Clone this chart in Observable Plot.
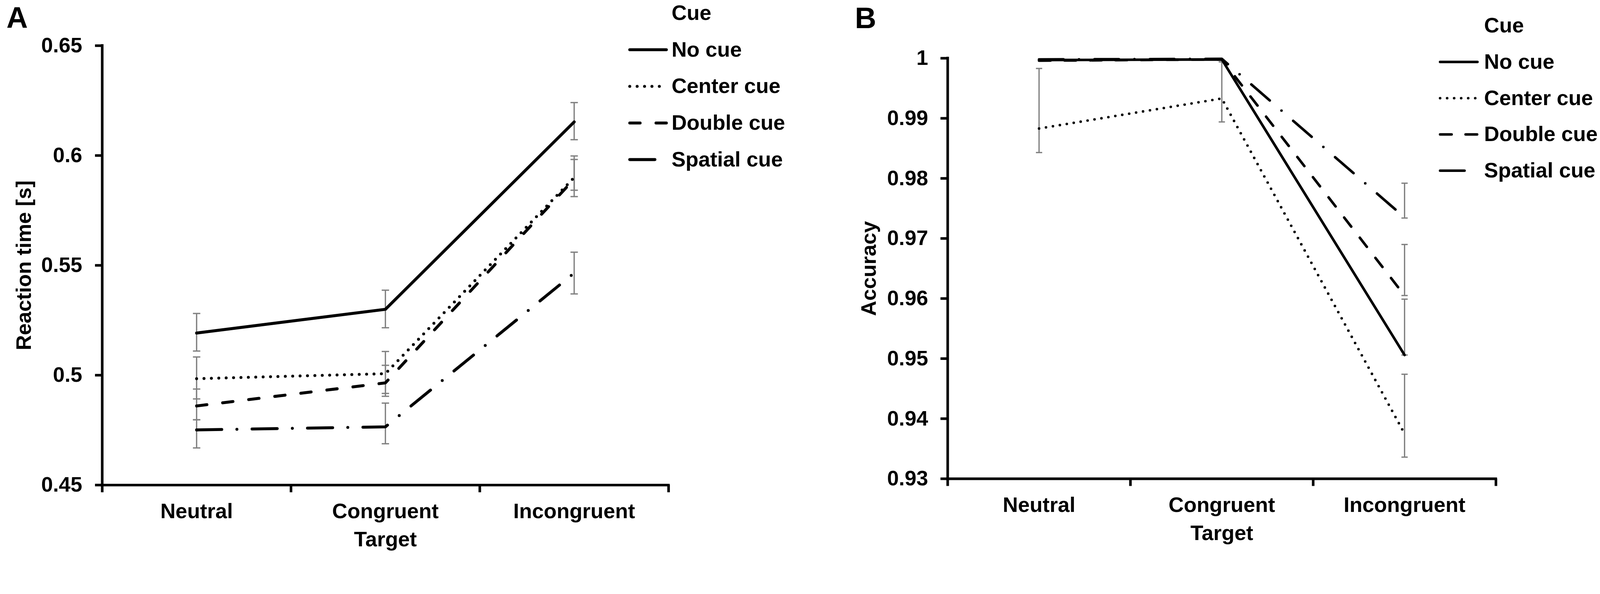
<!DOCTYPE html>
<html>
<head>
<meta charset="utf-8">
<script src="https://cdn.jsdelivr.net/npm/d3@7"></script>
<script src="https://cdn.jsdelivr.net/npm/@observablehq/plot@0.6"></script>
<style>
html, body { margin: 0; padding: 0; background: #fff; overflow: hidden; }
#root { position: absolute; left: 0; top: 0; width: 4328px; height: 1520px; overflow: hidden; background: #fff; transform-origin: 0 0; }
#root > .slot { position: absolute; top: 0; }
</style>
</head>
<body>
<div id="root">
  <div class="slot" id="panelA" style="left:0px"></div>
  <div class="slot" id="panelB" style="left:2200px"></div>
  <div class="slot" id="legendA" style="left:1670px"></div>
  <div class="slot" id="legendB" style="left:3860px"></div>
</div>
<script>
// ---------- data ----------
const categories = ["Neutral", "Congruent", "Incongruent"];
const cues = ["No cue", "Center cue", "Double cue", "Spatial cue"];
const xTitle = "Target";

// Panel A: reaction time [s]
const rtTicks = [0.45, 0.5, 0.55, 0.6, 0.65];
const rtNoCue   = [0.5192, 0.5300, 0.6153];
const rtCenter  = [0.4984, 0.5007, 0.5900];
const rtDouble  = [0.4860, 0.4965, 0.5893];
const rtSpatial = [0.4751, 0.4765, 0.5465];
const rtNoCueLo   = [0.5110, 0.5216, 0.6072];
const rtNoCueHi   = [0.5281, 0.5387, 0.6241];
const rtCenterLo  = [0.4892, 0.4904, 0.5842];
const rtCenterHi  = [0.5083, 0.5108, 0.5998];
const rtDoubleLo  = [0.4797, 0.4917, 0.5813];
const rtDoubleHi  = [0.4937, 0.5045, 0.5982];
const rtSpatialLo = [0.4669, 0.4688, 0.5370];
const rtSpatialHi = [0.4797, 0.4873, 0.5560];

// Panel B: accuracy
const accTicks = [0.93, 0.94, 0.95, 0.96, 0.97, 0.98, 0.99, 1];
const accNoCue   = [0.9997, 0.9998, 0.9506];
const accCenter  = [0.9883, 0.9933, 0.9375];
const accDouble  = [0.9996, 0.9998, 0.9605];
const accSpatial = [0.9998, 0.9999, 0.9735];
const accNoCueLo   = [null, null, 0.9506];
const accNoCueHi   = [null, null, 0.9599];
const accCenterLo  = [0.9843, 0.9894, 0.9336];
const accCenterHi  = [0.9983, 0.9994, 0.9474];
const accDoubleLo  = [null, null, 0.9605];
const accDoubleHi  = [null, null, 0.9690];
const accSpatialLo = [null, null, 0.9734];
const accSpatialHi = [null, null, 0.9792];

// ---------- helpers ----------
const FONT = "'Liberation Sans', Arial, Helvetica, sans-serif";
const baseStyle = {
  fontFamily: FONT, fontSize: "57px", fontWeight: "bold", color: "#000",
  background: "transparent", overflow: "visible", maxWidth: "none"
};
const fmt = d => String(+(+d).toFixed(2));
const capSymbol = {
  draw(context, size) {
    const w = Math.sqrt(size / Math.PI);
    context.moveTo(-w, 0);
    context.lineTo(w, 0);
  }
};

function panel(cfg) {
  const rows = cues.flatMap((cue, s) => categories.map((cat, i) => ({
    cue, cat, xi: i + 0.5, v: cfg.values[s][i], lo: cfg.lows[s][i], hi: cfg.highs[s][i]
  })));
  const bars = rows.filter(d => d.lo != null && d.hi != null);
  const caps = bars.flatMap(d => [{xi: d.xi, y: d.lo}, {xi: d.xi, y: d.hi}]);
  const bandTicks = categories.map((c, i) => i).concat([categories.length]);
  const centerTicks = categories.map((c, i) => i + 0.5);
  return Plot.plot({
    width: cfg.width, height: 1520,
    marginLeft: cfg.marginLeft, marginRight: cfg.marginRight,
    marginTop: cfg.marginTop, marginBottom: cfg.marginBottom,
    style: baseStyle,
    x: {type: "linear", domain: [0, categories.length]},
    y: {type: "linear", domain: [cfg.ticks[0], cfg.ticks[cfg.ticks.length - 1]]},
    marks: [
      Plot.ruleX(bars, {x: "xi", y1: "lo", y2: "hi", stroke: "#808080", strokeWidth: 3.5}),
      Plot.dot(caps, {x: "xi", y: "y", r: cfg.capR, symbol: capSymbol, stroke: "#808080", strokeWidth: 3.5, fill: "none"}),
      ...cfg.order.map(s => Plot.line(rows.filter(d => d.cue === cues[s]), {
        x: "xi", y: "v", stroke: "#000", strokeWidth: cfg.lineWidth,
        strokeDasharray: cfg.dashes[s], strokeLinecap: "round", strokeLinejoin: "round"
      })),
      Plot.ruleX([0], {stroke: "#000", strokeWidth: 7, strokeLinecap: "square"}),
      Plot.ruleY([cfg.ticks[0]], {stroke: "#000", strokeWidth: 7, strokeLinecap: "square"}),
      Plot.axisY({ticks: cfg.ticks, tickSize: 19, tickPadding: cfg.tickPadding, tickFormat: fmt, strokeWidth: 7, label: null}),
      Plot.axisX({ticks: bandTicks, tickSize: 20, tickFormat: () => "", strokeWidth: 7, label: null}),
      Plot.axisX({ticks: centerTicks, tickSize: 0, tickPadding: 49, tickFormat: v => categories[Math.floor(v)], label: null}),
      Plot.text([xTitle], {text: d => d, frameAnchor: "bottom", dy: 166, lineAnchor: "bottom", textAnchor: "middle"}),
      Plot.text([cfg.yTitle], {text: d => d, frameAnchor: "left", dx: cfg.titleDx, rotate: -90, textAnchor: "middle", lineAnchor: "bottom"}),
      Plot.text([cfg.letter], {text: d => d, frameAnchor: "top-left", dx: cfg.letterDx, dy: cfg.letterDy, textAnchor: "start", lineAnchor: "bottom", fontSize: 80})
    ]
  });
}

function legend(cfg) {
  const items = ["Cue", ...cues];
  return Plot.plot({
    width: cfg.width, height: 520, margin: 0,
    style: baseStyle,
    x: {type: "linear", domain: [0, 1], range: cfg.sampleRange, axis: null},
    y: {type: "point", domain: items, range: cfg.rowRange, padding: 0, axis: null},
    marks: [
      ...cues.map((c, s) => Plot.link([c], {
        x1: 0, x2: 1, y1: d => d, y2: d => d, stroke: "#000", strokeWidth: cfg.lineWidth,
        strokeDasharray: cfg.dashes[s], strokeLinecap: "round"
      })),
      Plot.text(items, {x: 1, y: d => d, text: d => d, dx: cfg.textDx, textAnchor: "start", lineAnchor: "middle"})
    ]
  });
}

const dashesA = [null, "0,20", "28,43", "68,41,0,41"];
const dashesB = [null, "0,19", "31,38", "66,42,0,42"];

document.getElementById("panelA").appendChild(panel({
  values: [rtNoCue, rtCenter, rtDouble, rtSpatial],
  lows: [rtNoCueLo, rtCenterLo, rtDoubleLo, rtSpatialLo],
  highs: [rtNoCueHi, rtCenterHi, rtDoubleHi, rtSpatialHi],
  ticks: rtTicks, yTitle: "Reaction time [s]", letter: "A",
  width: 1830, marginLeft: 276, marginRight: 22, marginTop: 123, marginBottom: 209,
  lineWidth: 8, dashes: dashesA, order: [3, 2, 1, 0], capR: 10, tickPadding: 35,
  titleDx: -193, letterDx: -259, letterDy: -49
}));

document.getElementById("panelB").appendChild(panel({
  values: [accNoCue, accCenter, accDouble, accSpatial],
  lows: [accNoCueLo, accCenterLo, accDoubleLo, accSpatialLo],
  highs: [accNoCueHi, accCenterHi, accDoubleHi, accSpatialHi],
  ticks: accTicks, yTitle: "Accuracy", letter: "B",
  width: 1870, marginLeft: 363, marginRight: 24, marginTop: 157, marginBottom: 226,
  lineWidth: 7, dashes: dashesB, order: [3, 2, 0, 1], capR: 8.5, tickPadding: 34,
  titleDx: -194, letterDx: -251, letterDy: -81
}));

document.getElementById("legendA").appendChild(legend({
  width: 640, sampleRange: [33, 132], rowRange: [34, 431], textDx: 14, lineWidth: 8, dashes: dashesA
}));

document.getElementById("legendB").appendChild(legend({
  width: 468, sampleRange: [35, 136], rowRange: [68, 462], textDx: 18, lineWidth: 7, dashes: dashesB
}));

// fit the 4328x1520 design to the actual viewport
function fit() {
  const root = document.getElementById("root");
  const vw = document.documentElement.clientWidth || window.innerWidth || 4328;
  const vh = document.documentElement.clientHeight || window.innerHeight || 1520;
  const k = Math.min(vw / 4328, vh / 1520);
  root.style.transform = k && Math.abs(k - 1) > 1e-3 ? `scale(${k})` : "none";
}
fit();
window.addEventListener("resize", fit);
</script>
</body>
</html>
